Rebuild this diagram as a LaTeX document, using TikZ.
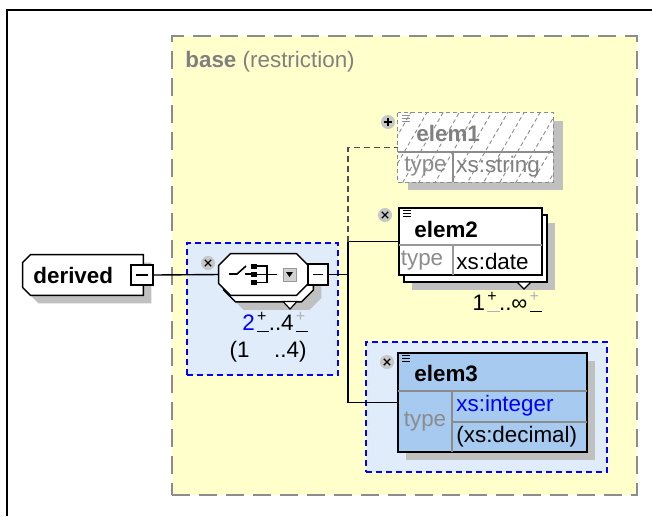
\documentclass[tikz,border=0pt]{standalone}
\usepackage{fontspec}
\setmainfont{Liberation Sans}
\usetikzlibrary{shadows,patterns.meta}

\definecolor{baseyellow}{RGB}{255,255,204}
\definecolor{grpblue}{RGB}{224,236,250}
\definecolor{elblue}{RGB}{166,202,240}
\definecolor{shadowgray}{RGB}{192,192,192}

% occurrence spinner: "+" above, "-" below
\newcommand{\updn}[2]{\makebox[0.62em][c]{\rlap{\textcolor{#2}{\rule[-0.15ex]{0.55em}{0.7pt}}}\raisebox{0.75ex}{\textcolor{#1}{\footnotesize +}}}}
% documentation mark in the corner of an element
\newcommand{\docmark}[2]{\foreach \k in {0,1,2} \draw[#2, line width=0.6pt] ([shift={(2.2pt,-1.6pt-1.5pt*\k)}]#1.north west) -- ++(4pt,0pt);}
% outline with all corners cut
\newcommand{\cutbox}[2]{([xshift=#2]#1.north west) -- ([xshift=-#2]#1.north east) -- ([yshift=-#2]#1.north east)
    -- ([yshift=#2]#1.south east) -- ([xshift=-#2]#1.south east) -- ([xshift=#2]#1.south west)
    -- ([yshift=#2]#1.south west) -- ([yshift=-#2]#1.north west) -- cycle}
% outline with the left corners cut
\newcommand{\leftcutbox}[2]{([xshift=#2]#1.north west) -- (#1.north east) -- (#1.south east)
    -- ([xshift=#2]#1.south west) -- ([yshift=#2]#1.south west) -- ([yshift=-#2]#1.north west) -- cycle}

\begin{document}
\begin{tikzpicture}[
    x=0.5pt, y=-0.5pt,
    font=\fontsize{11.2}{13}\selectfont,
    link/.style={line width=0.7pt},
    optlink/.style={line width=0.7pt, dash pattern=on 3pt off 2pt, draw=black!70},
    % Box styles
    elbox/.style={draw, line width=0.7pt, fill=white, inner sep=0pt},
    shadowed/.style={drop shadow={shadow xshift=4pt, shadow yshift=-4pt, fill=shadowgray, opacity=1}},
    ghostbox/.style={draw=black!45, dash pattern=on 2pt off 1.5pt, line width=0.6pt, preaction={fill=white},
        pattern={Lines[angle=60, distance=7pt, line width=0.45pt]}, pattern color=black!45},
    grpbox/.style={draw=blue, fill=grpblue, dash pattern=on 3pt off 2pt, line width=0.8pt, inner sep=0pt},
    basebox/.style={draw=black!45, fill=baseyellow, dash pattern=on 9pt off 4.5pt, line width=0.9pt, inner sep=0pt},
    frame/.style={inner sep=0pt, minimum width=44.5pt, minimum height=20.5pt},
    outline/.style={draw, fill=white, line width=0.7pt},
    toggle/.style={draw, fill=white, line width=0.7pt, minimum width=11pt, minimum height=10pt, inner sep=0pt,
        path picture={\draw ([xshift=2.5pt]path picture bounding box.west) -- ([xshift=-2.5pt]path picture bounding box.east);}},
    % Badge styles
    badge/.style={circle, fill=black!22, minimum size=7pt, inner sep=0pt},
    xbadge/.style={badge, path picture={
        \draw[line width=0.6pt] ([shift={(-1.6pt,1.6pt)}]path picture bounding box.center) -- ([shift={(1.6pt,-1.6pt)}]path picture bounding box.center);
        \draw[line width=0.6pt] ([shift={(-1.6pt,-1.6pt)}]path picture bounding box.center) -- ([shift={(1.6pt,1.6pt)}]path picture bounding box.center);}},
    plusbadge/.style={badge, path picture={
        \draw[line width=0.9pt] ([xshift=-2pt]path picture bounding box.center) -- ([xshift=2pt]path picture bounding box.center);
        \draw[line width=0.9pt] ([yshift=-2pt]path picture bounding box.center) -- ([yshift=2pt]path picture bounding box.center);}},
    % Text styles
    elname/.style={font=\fontsize{11.2}{13}\selectfont\bfseries, anchor=west, inner sep=0pt},
    hint/.style={text=black!45, inner sep=0pt},
    tval/.style={anchor=west, inner sep=0pt}
]
\useasboundingbox (0,0) rectangle (652,516);

% window frame
\draw[line width=1.3pt] (7,516) -- (7,10) -- (652,10);

% --- BASE TYPE (yellow) ---
\node[basebox, minimum width=232.5pt, minimum height=229.5pt] (base) at (404.5,265.5) {};
\node[anchor=west, inner sep=0pt, text=black!50] (basettl) at (185,62) {\textbf{base} (restriction)};

% --- GROUPS (blue) ---
\node[grpbox, minimum width=75.5pt, minimum height=66pt] (seqgrp) at (262.5,309) {};
\node[grpbox, minimum width=120.5pt, minimum height=65pt] (elem3grp) at (486.5,407) {};

% --- DERIVED ---
\node[frame, minimum width=60pt, minimum height=20pt] (derived) at (83,275) {};
\path[outline, shadowed] \leftcutbox{derived}{4pt};
\node[elname] (derivedlbl) at (33,275) {derived};
\node[toggle] (derivedpm) at (142,275) {};

% --- SEQUENCE ---
\node[frame] (seqback) at (268.5,281) {};
\node[frame] (seq) at (263.5,274.5) {};
\path[outline, shadowed] \cutbox{seqback}{6pt};
\path[outline] \cutbox{seq}{6pt};
\draw[fill=white, line width=0.6pt] (283,301.5) -- (297,301.5) -- (290,309) -- cycle;
\node[toggle, minimum height=10.5pt, minimum width=10pt] (seqpm) at (318,274.5) {};
\node[xbadge] (seqx) at (208,263) {};
% sequence mark
\draw[line width=0.8pt] (229,274) -- (237,274) -- (246,266);
\draw[line width=0.8pt] (245,274) -- (251,274);
\foreach \sy in {266,274.5,282.5}
    \fill (251,\sy-2.5) rectangle (257,\sy+2.5);
\draw[line width=0.8pt] (257,266) -- (267,266) -- (267,282.5) -- (257,282.5);
\draw[line width=0.8pt] (257,274.5) -- (277,274.5);
\draw[fill=black!18, draw=black!40] (283,268) rectangle (296,281);
\fill (286,272) -- (293,272) -- (289.5,277) -- cycle;
\node[inner sep=0pt] (seqocc) at (275,322) {\textcolor{blue}{2}\updn{black}{black}..4\updn{black!30}{black}};
\node[inner sep=0pt] (seqbase) at (268,352) {(1\hspace{1.1em}..4)};

% --- ELEMENTS ---
% elem1 (optional, not used)
\node[frame, minimum width=77.5pt, minimum height=34.5pt] (elem1) at (475.5,147.5) {};
\fill[shadowgray] ([shift={(5pt,-4pt)}]elem1.north west) rectangle ([shift={(5pt,-4pt)}]elem1.south east);
\path[ghostbox] (elem1.north west) rectangle (elem1.south east);
\draw[black!45, line width=0.6pt] (398,152) -- (553,152) (453,152) -- (453,182);
\docmark{elem1}{black!45}
\node[elname, text=black!50] (e1name) at (416,133) {elem1};
\node[hint] (e1typelbl) at (425.5,167) {type};
\node[tval, text=black!50] (e1type) at (456,167) {xs:string};
\node[plusbadge] (e1plus) at (388,122) {};

% elem2 (repeating)
\node[elbox, shadowed, minimum width=71.5pt, minimum height=33.5pt] (elem2back) at (475.5,248.5) {};
\node[elbox, minimum width=71.5pt, minimum height=33.5pt] (elem2) at (470.5,241.5) {};
\draw[fill=white, line width=0.6pt] (517,282) -- (531,282) -- (524,289) -- cycle;
\draw[black!40, line width=0.6pt] (399,245) -- (542,245) (453,245) -- (453,275);
\docmark{elem2}{black}
\node[elname] (e2name) at (414,229) {elem2};
\node[hint] (e2typelbl) at (422,261) {type};
\node[tval] (e2type) at (456,261) {xs:date};
\node[xbadge] (e2x) at (385,215) {};
\node[inner sep=0pt] (e2occ) at (507,302) {1\updn{black}{black!30}..∞\updn{black!30}{black}};

% elem3
\node[elbox, fill=elblue, shadowed, minimum width=94.5pt, minimum height=49.5pt] (elem3) at (492.5,402.5) {};
\draw[black!45, line width=0.6pt] (398,391) -- (587,391) (452,391) -- (452,452) (452,422) -- (587,422);
\draw[line width=0.7pt] (elem3.north west) rectangle (elem3.south east);
\docmark{elem3}{black}
\node[elname] (e3name) at (414,373) {elem3};
\node[hint] (e3typelbl) at (425,422) {type};
\node[tval, text=blue] (e3type) at (456,406) {xs:integer};
\node[tval] (e3base) at (456,437) {(xs:decimal)};
\node[xbadge] (e3x) at (387,362) {};

% --- CONNECTORS ---
\coordinate (bus) at (348,274.5);
\draw[link] (derivedpm.east) -- (seq.west);
\draw[link] (seqpm.east) -- (bus);
\draw[link] (bus) |- (elem2.west);
\draw[link] (bus) |- (elem3.west);
\draw[optlink] (bus |- elem2.west) |- (elem1.west);

\end{tikzpicture}
\end{document}
